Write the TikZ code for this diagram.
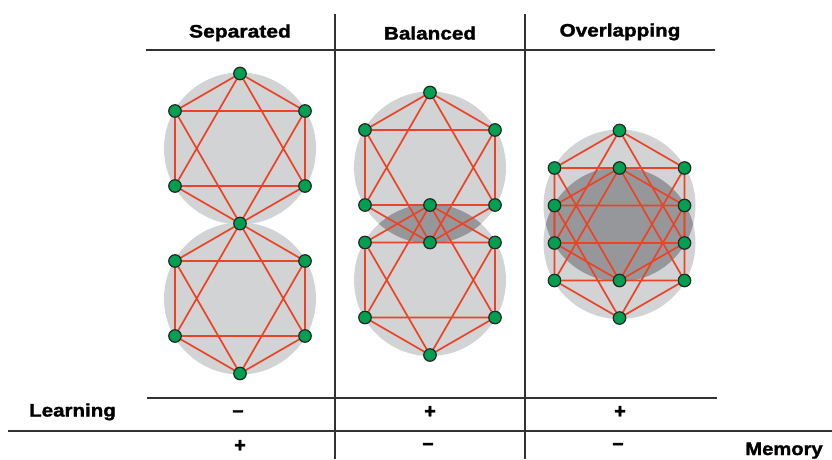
\documentclass[tikz,border=0pt]{standalone}
\usepackage{fontspec}
\setmainfont{Liberation Sans}
\newfontfamily\heavyfont{Liberation Sans}[UprightFont={* Bold}, FakeBold=1.6]
\pgfdeclarelayer{bg}
\pgfdeclarelayer{edges}
\pgfsetlayers{bg,edges,main}
\definecolor{lgray}{RGB}{209,211,212}
\definecolor{dgray}{RGB}{150,151,154}
\definecolor{edgered}{RGB}{236,67,38}
\definecolor{nodegreen}{RGB}{0,160,80}
\definecolor{rulecol}{RGB}{50,50,50}
\tikzset{
  vtx/.style={circle, fill=nodegreen, draw=black!85, line width=1.2pt, minimum size=12.5pt, inner sep=0pt},
  edge/.style={draw=edgered, line width=1.7pt},
  rulel/.style={draw=rulecol, line width=1.3pt},
  head/.style={font=\fontsize{18}{20}\heavyfont, anchor=base, inner sep=0pt},
  sign/.style={font=\fontsize{20}{22}\heavyfont, anchor=center, inner sep=0pt},
}
% six vertices: t (top), ur, lr, b (bottom), ll, ul
\newcommand{\hexnodes}[3]{%
  \node[vtx] (#1t)  at (#2,#3-75) {};
  \node[vtx] (#1ur) at (#2+65,#3-37.5) {};
  \node[vtx] (#1lr) at (#2+65,#3+37.5) {};
  \node[vtx] (#1b)  at (#2,#3+75) {};
  \node[vtx] (#1ll) at (#2-65,#3+37.5) {};
  \node[vtx] (#1ul) at (#2-65,#3-37.5) {};}
\newcommand{\hexedges}[6]{%
  \begin{pgfonlayer}{edges}
  \draw[edge] (#1)--(#2) (#2)--(#3) (#3)--(#4) (#4)--(#5) (#5)--(#6) (#6)--(#1)
    (#1)--(#3) (#3)--(#5) (#5)--(#1) (#2)--(#4) (#4)--(#6) (#6)--(#2);
  \end{pgfonlayer}}
\begin{document}
\begin{tikzpicture}[x=1pt,y=-1pt]
\useasboundingbox (0,0) rectangle (832,459);
% table rules
\draw[rulel] (146,50) -- (715,50);
\draw[rulel] (335,14) -- (335,459);
\draw[rulel] (525,14) -- (525,459);
\draw[rulel] (147,398) -- (717,398);
\draw[rulel] (8,431) -- (832,431);
% headers
\node[head] (h1) at (240,37.5) {\scalebox{1.17}[1]{Separated}};
\node[head] (h2) at (430,39.5) {\scalebox{1.15}[1]{Balanced}};
\node[head] (h3) at (620,36.5) {\scalebox{1.15}[1]{Overlapping}};
% row labels
\node[head] (learn) at (72.5,416.5) {\scalebox{1.14}[1]{Learning}};
\node[head] (mem) at (784,455) {\scalebox{1.12}[1]{Memory}};
% signs
\node[sign] (s11) at (238,413.5) {–};
\node[sign] (s12) at (430,412) {+};
\node[sign] (s13) at (620,412) {+};
\node[sign] (s21) at (240,446) {+};
\node[sign] (s22) at (428,446.3) {–};
\node[sign] (s23) at (618,446.3) {–};
% background discs
\begin{pgfonlayer}{bg}
  \fill[lgray] (240,148.5) circle (76pt);
  \fill[lgray] (240,298.5) circle (76pt);
  \fill[lgray] (430,167.5) circle (76pt);
  \fill[lgray] (430,280) circle (76pt);
  \begin{scope}
    \clip (430,167.5) circle (76pt);
    \fill[dgray] (430,280) circle (76pt);
  \end{scope}
  \fill[lgray] (619.5,205.5) circle (76pt);
  \fill[lgray] (619.5,243) circle (76pt);
  \begin{scope}
    \clip (619.5,205.5) circle (76pt);
    \fill[dgray] (619.5,243) circle (76pt);
  \end{scope}
\end{pgfonlayer}
% Separated
\hexnodes{sa}{240}{148.5}
\node[vtx] (sbur) at (305,261) {};
\node[vtx] (sblr) at (305,336) {};
\node[vtx] (sbb)  at (240,373.5) {};
\node[vtx] (sbll) at (175,336) {};
\node[vtx] (sbul) at (175,261) {};
\hexedges{sat}{saur}{salr}{sab}{sall}{saul}
\hexedges{sab}{sbur}{sblr}{sbb}{sbll}{sbul}
% Balanced
\hexnodes{ba}{430}{167.5}
\hexnodes{bb}{430}{280}
\hexedges{bat}{baur}{balr}{bab}{ball}{baul}
\hexedges{bbt}{bbur}{bblr}{bbb}{bbll}{bbul}
% Overlapping
\hexnodes{oa}{619.5}{205.5}
\hexnodes{ob}{619.5}{243}
\hexedges{oat}{oaur}{oalr}{oab}{oall}{oaul}
\hexedges{obt}{obur}{oblr}{obb}{obll}{obul}
\end{tikzpicture}
\end{document}
